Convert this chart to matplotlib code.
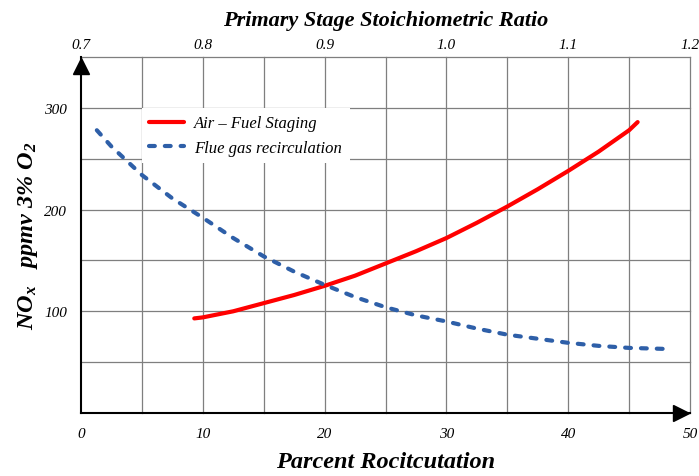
import matplotlib.pyplot as plt
import numpy as np

# Air - Fuel Staging
staging_x = [9.3, 10, 12.5, 15, 17.5, 20, 22.5, 25, 27.5, 30, 32.5, 35, 37.5, 40, 42.5, 45, 45.7]
staging_y = [93, 94, 100, 108, 116, 125, 135, 147, 159, 172, 187, 203, 220, 238, 257, 278, 286]

# Flue gas recirculation
fgr_x = [1.3, 2.5, 5, 7.5, 10, 12.5, 15, 17.5, 20, 22.5, 25, 27.5, 30, 32.5, 35, 37.5, 40, 42.5, 45, 48]
fgr_y = [278, 262, 234, 211, 192, 172, 154, 139, 126, 114, 104, 96, 90, 83, 77, 73, 69, 66, 64, 63]

x_ticks = [0, 10, 20, 30, 40, 50]
x_labels = ['0', '10', '20', '30', '40', '50']
y_ticks = [100, 200, 300]
y_labels = ['100', '200', '300']
top_labels = ['0.7', '0.8', '0.9', '1.0', '1.1', '1.2']

serif = 'Liberation Serif'
plt.rcParams['mathtext.fontset'] = 'custom'
plt.rcParams['mathtext.rm'] = serif + ':italic:bold'
plt.rcParams['mathtext.it'] = serif + ':italic:bold'
plt.rcParams['mathtext.bf'] = serif + ':italic:bold'

fig = plt.figure(figsize=(6.99, 4.77), dpi=100)
ax = fig.add_axes([81 / 699, 63 / 477, 609 / 699, 356 / 477])

ax.plot(staging_x, staging_y, color='#ff0000', lw=3, label='Air \u2013 Fuel Staging',
        solid_capstyle='round', zorder=3)
ax.plot(fgr_x, fgr_y, color='#2e5fa8', lw=3, ls=(0, (1.4, 2.4)), dash_capstyle='round',
        label='Flue gas recirculation', zorder=3)

ax.set_xlim(0, 50)
ax.set_ylim(0, 350)

# grid
for gx in np.arange(5, 51, 5):
    ax.axvline(gx, color='#7f7f7f', lw=0.9, zorder=1, clip_on=False)
for gy in np.arange(50, 351, 50):
    ax.axhline(gy, color='#7f7f7f', lw=0.9, zorder=1, clip_on=False)

for s in ['top', 'right']:
    ax.spines[s].set_visible(False)
ax.spines['left'].set_linewidth(1.5)
ax.spines['bottom'].set_linewidth(1.5)

# axis arrows
ax.plot(0, 0.975, marker='^', color='k', ms=11, transform=ax.transAxes, clip_on=False, zorder=5)
ax.plot(0.985, 0, marker='>', color='k', ms=11, transform=ax.transAxes, clip_on=False, zorder=5)

ax.set_xticks(x_ticks)
ax.set_xticklabels(x_labels, fontstyle='italic', family=serif, fontsize=11)
ax.set_yticks(y_ticks)
ax.set_yticklabels(y_labels, fontstyle='italic', family=serif, fontsize=11)
ax.tick_params(length=0, pad=10)

top = ax.twiny()
top.set_xlim(0, 50)
top.set_xticks(x_ticks)
top.set_xticklabels(top_labels, fontstyle='italic', family=serif, fontsize=11)
top.tick_params(length=0, pad=4)
for s in top.spines.values():
    s.set_visible(False)

ax.set_xlabel('Parcent Rocitcutation', family=serif, fontstyle='italic',
              fontweight='bold', fontsize=17.5, labelpad=8)
ax.set_ylabel(r'NO$_\mathregular{x}$   ppmv 3% O$_\mathregular{2}$', family=serif,
              fontstyle='italic', fontweight='bold', fontsize=17.5)
ax.yaxis.set_label_coords(-0.067, 0.5)
top.set_title('Primary Stage Stoichiometric Ratio', family=serif, fontstyle='italic',
              fontweight='bold', fontsize=16, pad=23)

leg = ax.legend(loc='upper left', bbox_to_anchor=(5, 300), bbox_transform=ax.transData,
                frameon=True, prop={'family': serif, 'style': 'italic', 'size': 12},
                handlelength=2.1, handletextpad=0.6, borderpad=0.45, labelspacing=0.5,
                borderaxespad=0, fancybox=False)
leg.get_frame().set_edgecolor('none')
leg.get_frame().set_facecolor('white')
leg.get_frame().set_alpha(1)

fig.savefig('out.png')
